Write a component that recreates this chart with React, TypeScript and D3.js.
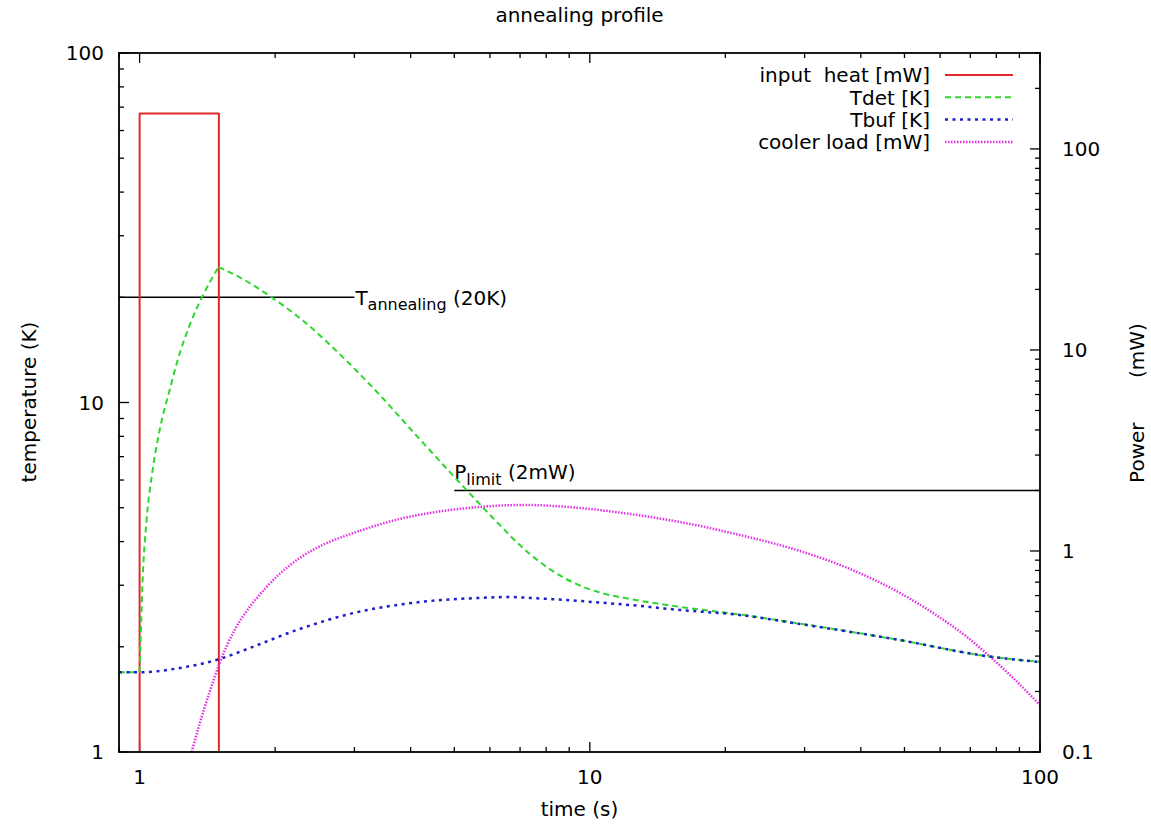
import React from "react";
import * as d3 from "d3";

// ---- data ----
const titleText = "annealing profile";
const xDomain = [0.9, 100];
const yLeftDomain = [1, 100];
const yRightDomain = [0.1, 300];
const xMajorLabels = [1, 10, 100];
const yLeftMajorLabels = [1, 10, 100];
const yRightMajorLabels = [0.1, 1, 10, 100];

// input heat [mW] (right axis)
const heatT = [1, 1, 1.5, 1.5];
const heatP = [0, 150, 150, 0];

// Tdet [K] (left axis)
const tdetT = [0.9, 1, 1.005, 1.0155, 1.0365, 1.069, 1.108, 1.166, 1.215, 1.292, 1.38, 1.498,
  1.711, 1.945, 2.268, 2.855, 3.415, 4.147, 5.275, 6.31, 6.99, 7.74, 8.58, 9.5, 10.52, 12.27,
  14.3, 17.56, 21.54, 29.29, 48.86, 76.26, 100];
const tdetK = [1.69, 1.69, 2.09, 3.1, 4.61, 6.41, 8.34, 10.86, 13.23, 16.66, 20.17, 24.4,
  22.41, 20.17, 17.45, 13.32, 10.51, 7.97, 5.69, 4.46, 3.91, 3.5, 3.2, 2.995, 2.86, 2.741,
  2.652, 2.557, 2.474, 2.33, 2.09, 1.88, 1.81];

// Tbuf [K] (left axis)
const tbufT = [0.9, 1, 1.227, 1.506, 1.756, 2.268, 2.989, 4.212, 5.695, 6.64, 7.356, 9.5,
  12.27, 15.85, 21.54, 29.29, 48.86, 76.26, 100];
const tbufK = [1.69, 1.69, 1.739, 1.845, 1.984, 2.249, 2.499, 2.687, 2.76, 2.777, 2.76, 2.704,
  2.634, 2.549, 2.466, 2.324, 2.09, 1.88, 1.81];

// cooler load [mW] (right axis)
const coolT = [1.305, 1.359, 1.431, 1.506, 1.626, 1.756, 1.896, 2.047, 2.268, 2.577, 2.989,
  3.782, 4.714, 5.695, 7.135, 9.5, 12.27, 15.85, 21.54, 29.29, 37.83, 48.86, 57.85, 68.83,
  76.26, 85.77, 100];
const coolP = [0.1, 0.1378, 0.1989, 0.2772, 0.4046, 0.5264, 0.647, 0.7686, 0.923, 1.0834, 1.229,
  1.443, 1.581, 1.655, 1.694, 1.636, 1.528, 1.394, 1.201, 1.0, 0.8136, 0.618, 0.4915, 0.3734,
  0.3073, 0.2416, 0.1713];

// annotations
const tAnnealing = 20;
const tAnnealingEnd = 3;
const pLimit = 2;
const pLimitStart = 5;

const legendLabels = ["input  heat [mW]", "Tdet [K]", "Tbuf [K]", "cooler load [mW]"];

// ---- layout ----
const W = 1151, H = 824;
const L = 119, R = 1040, T = 53, B = 752;
const FONT = "DejaVu Sans, Liberation Sans, Arial, sans-serif";
const FS = 20;

export default function App() {
  const x = d3.scaleLog().domain(xDomain).range([L, R]);
  const yL = d3.scaleLog().domain(yLeftDomain).range([B, T]);
  const yR = d3.scaleLog().domain(yRightDomain).range([B, T]);
  const yRs = (v: number) => (v > 0 ? yR(v) : B + 5);

  const isMajor = (v: number) => Math.abs(Math.log10(v) - Math.round(Math.log10(v))) < 1e-9;

  const xTicks = x.ticks();
  const yLTicks = yL.ticks();
  const yRTicks = yR.ticks();

  const zip = (a: number[], b: number[]) => a.map((v, i) => [v, b[i]] as [number, number]);

  const lineLinear = d3.line<[number, number]>().x((d) => x(d[0])).y((d) => d[1]);

  const heatPts = zip(heatT, heatP).map((d) => [d[0], yRs(d[1])] as [number, number]);
  const tdetAll = zip(tdetT, tdetK);
  const peakIdx = tdetK.indexOf(d3.max(tdetK) as number);
  const monoL = d3.line<[number, number]>().x((d) => x(d[0])).y((d) => yL(d[1])).curve(d3.curveMonotoneX);
  const tdetRise = monoL(tdetAll.slice(1, peakIdx + 1)) || "";
  const tdetFlat = monoL(tdetAll.slice(0, 2)) || "";
  const tdetDecay = monoL(tdetAll.slice(peakIdx)) || "";
  const tbufPath = monoL(zip(tbufT, tbufK)) || "";
  const coolPath = d3.line<[number, number]>().x((d) => x(d[0])).y((d) => yR(d[1])).curve(d3.curveMonotoneX)(zip(coolT, coolP)) || "";

  const red = "#e02a2a";
  const green = "#2ed62e";
  const blue = "#1f1fc8";
  const magenta = "#e62ee6";

  const styles = [
    { stroke: red, dash: "none", w: 2 },
    { stroke: green, dash: "6,4", w: 2 },
    { stroke: blue, dash: "3,4.5", w: 2.5 },
    { stroke: magenta, dash: "1.5,1.5", w: 2.5 },
  ];

  return (
    <svg width={W} height={H} style={{ position: "absolute", left: 0, top: 0, background: "#fff" }} fontFamily={FONT}>
      <rect x={0} y={0} width={W} height={H} fill="#fff" />
      <defs>
        <clipPath id="plot">
          <rect x={L} y={T} width={R - L} height={B - T} />
        </clipPath>
      </defs>

      {/* ticks x bottom and top */}
      {xTicks.map((v, i) => {
        const len = isMajor(v) ? 10 : 5;
        return (
          <g key={"xt" + i}>
            <line x1={x(v)} x2={x(v)} y1={B} y2={B - len} stroke="#000" strokeWidth={1.3} />
            <line x1={x(v)} x2={x(v)} y1={T} y2={T + len} stroke="#000" strokeWidth={1.3} />
          </g>
        );
      })}
      {yLTicks.map((v, i) => {
        const len = isMajor(v) ? 10 : 5;
        return <line key={"yl" + i} x1={L} x2={L + len} y1={yL(v)} y2={yL(v)} stroke="#000" strokeWidth={1.3} />;
      })}
      {yRTicks.map((v, i) => {
        const len = isMajor(v) ? 10 : 5;
        return <line key={"yr" + i} x1={R} x2={R - len} y1={yR(v)} y2={yR(v)} stroke="#000" strokeWidth={1.3} />;
      })}

      {/* tick labels */}
      {xMajorLabels.map((v) => (
        <text key={"xl" + v} x={x(v)} y={784} fontSize={FS} textAnchor="middle" fill="#000">{String(v)}</text>
      ))}
      {yLeftMajorLabels.map((v) => (
        <text key={"yll" + v} x={104} y={yL(v)} dy="0.36em" fontSize={FS} textAnchor="end" fill="#000">{String(v)}</text>
      ))}
      {yRightMajorLabels.map((v) => (
        <text key={"yrl" + v} x={1062} y={yR(v)} dy="0.36em" fontSize={FS} textAnchor="start" fill="#000">{String(v)}</text>
      ))}

      {/* axis titles */}
      <text x={(L + R) / 2} y={22} fontSize={FS} textAnchor="middle" fill="#000">{titleText}</text>
      <text x={(L + R) / 2} y={816} fontSize={FS} textAnchor="middle" fill="#000">time (s)</text>
      <text transform="translate(36,402) rotate(-90)" fontSize={FS} textAnchor="middle" fill="#000">temperature (K)</text>
      <text transform="translate(1144,403) rotate(-90)" fontSize={FS} textAnchor="middle" fill="#000" style={{ whiteSpace: "pre" }} xmlSpace="preserve">{"Power       (mW)"}</text>

      {/* annotations */}
      <line x1={x(xDomain[0])} x2={x(tAnnealingEnd)} y1={yL(tAnnealing)} y2={yL(tAnnealing)} stroke="#000" strokeWidth={1.5} />
      <text x={x(tAnnealingEnd) + 1} y={yL(tAnnealing) + 8} fontSize={FS} fill="#000">
        T<tspan fontSize={16} dy={5}>annealing</tspan><tspan dy={-5} fontSize={FS}>{" (20K)"}</tspan>
      </text>
      <line x1={x(pLimitStart)} x2={R} y1={yR(pLimit)} y2={yR(pLimit)} stroke="#000" strokeWidth={1.5} />
      <text x={x(pLimitStart)} y={yR(pLimit) - 11} fontSize={FS} fill="#000">
        P<tspan fontSize={16} dy={6}>limit</tspan><tspan dy={-6} fontSize={FS}>{" (2mW)"}</tspan>
      </text>

      {/* data */}
      <g clipPath="url(#plot)" fill="none" strokeLinejoin="round">
        <path d={lineLinear(heatPts) || ""} stroke={red} strokeWidth={2} />
        <path d={coolPath} stroke={magenta} strokeWidth={2.5} strokeDasharray="1.5,1.5" />
        <path d={tdetFlat} stroke={green} strokeWidth={2} strokeDasharray="6,4" />
        <path d={tdetRise} stroke={green} strokeWidth={2} strokeDasharray="6,4" />
        <path d={tdetDecay} stroke={green} strokeWidth={2} strokeDasharray="6,4" />
        <path d={tbufPath} stroke={blue} strokeWidth={2.5} strokeDasharray="3,4.5" />
      </g>

      {/* legend */}
      {legendLabels.map((lab, i) => {
        const yy = 75 + i * 22.3;
        const s = styles[i];
        return (
          <g key={"lg" + i}>
            <text x={930} y={yy} dy="0.36em" fontSize={FS} textAnchor="end" fill="#000" style={{ whiteSpace: "pre" }} xmlSpace="preserve">{lab}</text>
            <line x1={945} x2={1013} y1={yy} y2={yy} stroke={s.stroke} strokeWidth={s.w} strokeDasharray={s.dash} />
          </g>
        );
      })}

      {/* border */}
      <rect x={L} y={T} width={R - L} height={B - T} fill="none" stroke="#000" strokeWidth={1.8} />
    </svg>
  );
}
